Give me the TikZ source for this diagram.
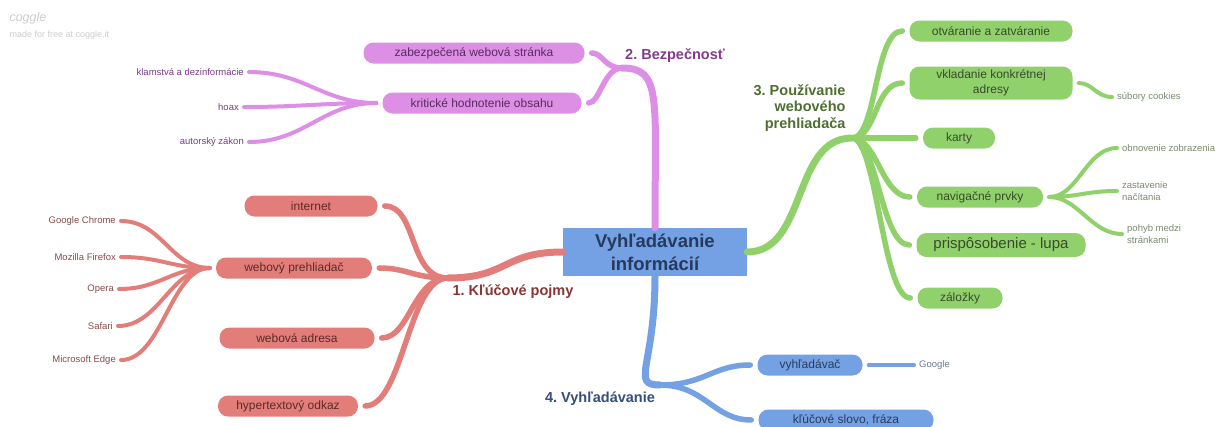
\documentclass[tikz,border=0pt]{standalone}
\usepackage{fontspec}
\setmainfont{Liberation Sans}
\frenchspacing
\definecolor{redfill}{HTML}{E27D7A}
\definecolor{redtext}{HTML}{5C2A2A}
\definecolor{redtitle}{HTML}{8A3535}
\definecolor{redleaf}{HTML}{8A4A4A}
\definecolor{violetfill}{HTML}{DC8FE5}
\definecolor{violettext}{HTML}{5A2A60}
\definecolor{violettitle}{HTML}{843A8E}
\definecolor{violetleaf}{HTML}{7A3A88}
\definecolor{greenfill}{HTML}{90D16B}
\definecolor{greentext}{HTML}{3A4A2E}
\definecolor{greentitle}{HTML}{4E6E30}
\definecolor{greenleaf}{HTML}{7A8A6E}
\definecolor{bluefill}{HTML}{74A0E4}
\definecolor{bluetext}{HTML}{2A3C5E}
\definecolor{bluetitle}{HTML}{33507A}
\definecolor{blueleaf}{HTML}{6A7A90}
\definecolor{centretext}{HTML}{283A5C}
\definecolor{marktext}{HTML}{CCCCCC}
\begin{document}
\begin{tikzpicture}[x=1pt, y=-1pt, line cap=round,
    pill/.style = {rounded corners=10pt, minimum height=21pt, inner sep=3pt, font=\fontsize{12}{15}\selectfont},
    redpill/.style = {pill, fill=redfill, text=redtext},
    violetpill/.style = {pill, fill=violetfill, text=violettext},
    greenpill/.style = {pill, fill=greenfill, text=greentext},
    bluepill/.style = {pill, fill=bluefill, text=bluetext},
    leaf/.style = {inner sep=1pt, font=\fontsize{9.5}{11.5}\selectfont},
    title/.style = {font=\bfseries\fontsize{14.5}{16.5}\selectfont},
    branch/.style = {line width=7pt},
    twig/.style = {line width=5.5pt, shorten >=7pt},
    leafline/.style = {line width=4pt, shorten <=6pt, shorten >=4pt}]
    \useasboundingbox (0,0) rectangle (1219,426);
    % coggle mark
    \node[anchor=west, text=marktext, font=\itshape\fontsize{12.5}{14}\selectfont] (logo) at (6,18) {coggle};
    \node[anchor=west, text=marktext, font=\fontsize{9}{11}\selectfont] (made) at (6,35) {made for free at coggle.it};
    % centre
    \node[fill=bluefill, text=centretext, minimum width=184pt, minimum height=48pt, align=center,
          font=\bfseries\fontsize{18.5}{23}\selectfont] (c) at (655,252) {Vyhľadávanie\\informácií};
    % 1. Kľúčové pojmy
    \coordinate (h1) at (448,278);
    \node[title, text=redtitle] (t1) at (513,292) {1. Kľúčové pojmy};
    \node[redpill, minimum width=133pt] (internet) at (311,206) {internet};
    \node[redpill, minimum width=156pt] (prehliadac) at (294,268) {webový prehliadač};
    \node[redpill, minimum width=155pt] (adresa) at (297,338) {webová adresa};
    \node[redpill, minimum width=140pt] (odkaz) at (288,406) {hypertextový odkaz};
    \node[leaf, text=redleaf, anchor=east] (chrome) at (117,221) {Google Chrome};
    \node[leaf, text=redleaf, anchor=east] (firefox) at (117,257) {Mozilla Firefox};
    \node[leaf, text=redleaf, anchor=east] (opera) at (115,289) {Opera};
    \node[leaf, text=redleaf, anchor=east] (safari) at (114,326) {Safari};
    \node[leaf, text=redleaf, anchor=east] (edge) at (117,360) {Microsoft Edge};
    \draw[branch, redfill] (c.west) .. controls +(-60,0) and +(60,0) .. (h1);
    \draw[twig, redfill] (h1) .. controls +(-40,0) and +(40,0) .. (internet.east);
    \draw[twig, redfill] (h1) .. controls +(-35,0) and +(35,0) .. (prehliadac.east);
    \draw[twig, redfill] (h1) .. controls +(-35,0) and +(35,0) .. (adresa.east);
    \draw[twig, redfill] (h1) .. controls +(-40,0) and +(45,0) .. (odkaz.east);
    \draw[leafline, redfill] (prehliadac.west) .. controls +(-45,0) and +(45,0) .. (chrome.east);
    \draw[leafline, redfill] (prehliadac.west) .. controls +(-45,0) and +(45,0) .. (firefox.east);
    \draw[leafline, redfill] (prehliadac.west) .. controls +(-45,0) and +(45,0) .. (opera.east);
    \draw[leafline, redfill] (prehliadac.west) .. controls +(-45,0) and +(45,0) .. (safari.east);
    \draw[leafline, redfill] (prehliadac.west) .. controls +(-45,0) and +(45,0) .. (edge.east);
    % 2. Bezpečnosť
    \coordinate (h2) at (622,68);
    \node[title, text=violettitle] (t2) at (675,56) {2. Bezpečnosť};
    \node[violetpill, minimum width=221pt] (zabezpecena) at (474,53) {zabezpečená webová stránka};
    \node[violetpill, minimum width=199pt] (kriticke) at (482,103) {kritické hodnotenie obsahu};
    \node[leaf, text=violetleaf, anchor=east] (klamstva) at (245,72) {klamstvá a dezinformácie};
    \node[leaf, text=violetleaf, anchor=east] (hoax) at (240,107) {hoax};
    \node[leaf, text=violetleaf, anchor=east] (autorsky) at (245,142) {autorský zákon};
    \draw[branch, violetfill] (c.north) .. controls +(0,-130) and +(40,0) .. (h2);
    \draw[twig, violetfill] (h2) .. controls +(-18,0) and +(18,0) .. (zabezpecena.east);
    \draw[twig, violetfill] (h2) .. controls +(-18,0) and +(18,0) .. (kriticke.east);
    \draw[leafline, violetfill] (kriticke.west) .. controls +(-60,0) and +(60,0) .. (klamstva.east);
    \draw[leafline, violetfill] (kriticke.west) .. controls +(-60,0) and +(60,0) .. (hoax.east);
    \draw[leafline, violetfill] (kriticke.west) .. controls +(-60,0) and +(60,0) .. (autorsky.east);
    % 3. Používanie webového prehliadača
    \coordinate (h3) at (852,138);
    \node[title, text=greentitle, align=right, anchor=east] (t3) at (849,108) {3. Používanie\\webového\\prehliadača};
    \node[greenpill, minimum width=163pt] (otvaranie) at (991,31) {otváranie a zatváranie};
    \node[greenpill, minimum width=163pt, minimum height=33pt, align=center] (vkladanie) at (991,83) {vkladanie konkrétnej\\adresy};
    \node[greenpill, minimum width=72pt] (karty) at (959,138) {karty};
    \node[greenpill, minimum width=126pt] (navigacne) at (980,197) {navigačné prvky};
    \node[greenpill, minimum width=169pt, minimum height=24pt, font=\fontsize{15}{17}\selectfont] (lupa) at (1001,245) {prispôsobenie - lupa};
    \node[greenpill, minimum width=85pt] (zalozky) at (960,298) {záložky};
    \node[leaf, text=greenleaf, anchor=west] (cookies) at (1116,97) {súbory cookies};
    \node[leaf, text=greenleaf, anchor=west] (obnovenie) at (1121,148) {obnovenie zobrazenia};
    \node[leaf, text=greenleaf, anchor=west, align=left] (zastavenie) at (1121,191) {zastavenie\\načítania};
    \node[leaf, text=greenleaf, anchor=west, align=left] (pohyb) at (1126,234) {pohyb medzi\\stránkami};
    \draw[branch, greenfill] (c.east) .. controls +(60,0) and +(-60,0) .. (h3);
    \draw[twig, greenfill] (h3) .. controls +(25,0) and +(-35,0) .. (otvaranie.west);
    \draw[twig, greenfill] (h3) .. controls +(25,0) and +(-35,0) .. (vkladanie.west);
    \draw[twig, greenfill] (h3) -- (karty.west);
    \draw[twig, greenfill] (h3) .. controls +(25,0) and +(-35,0) .. (navigacne.west);
    \draw[twig, greenfill] (h3) .. controls +(25,0) and +(-35,0) .. (lupa.west);
    \draw[twig, greenfill] (h3) .. controls +(25,0) and +(-35,0) .. (zalozky.west);
    \draw[leafline, greenfill] (vkladanie.east) .. controls +(20,0) and +(-20,0) .. (cookies.west);
    \draw[leafline, greenfill] (navigacne.east) .. controls +(35,0) and +(-35,0) .. (obnovenie.west);
    \draw[leafline, greenfill] (navigacne.east) .. controls +(35,0) and +(-35,0) .. (zastavenie.west);
    \draw[leafline, greenfill] (navigacne.east) .. controls +(35,0) and +(-35,0) .. (pohyb.west);
    % 4. Vyhľadávanie
    \coordinate (h4) at (660,385);
    \node[title, text=bluetitle] (t4) at (600,399) {4. Vyhľadávanie};
    \node[bluepill, minimum width=105pt] (vyhladavac) at (810,365) {vyhľadávač};
    \node[bluepill, minimum width=175pt] (klucove) at (846,420) {kľúčové slovo, fráza};
    \node[leaf, text=blueleaf, anchor=west] (google) at (918,365) {Google};
    \draw[branch, bluefill] (c.south) .. controls +(0,90) and +(-30,0) .. (h4);
    \draw[twig, bluefill] (h4) .. controls +(45,0) and +(-45,0) .. (vyhladavac.west);
    \draw[twig, bluefill] (h4) .. controls +(45,0) and +(-45,0) .. (klucove.west);
    \draw[leafline, bluefill] (vyhladavac.east) -- (google.west);
\end{tikzpicture}
\end{document}
